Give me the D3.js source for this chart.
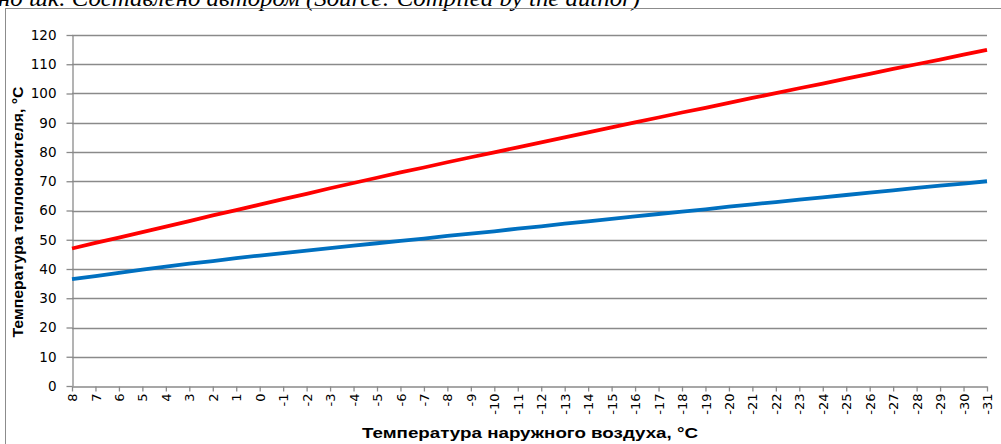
<!DOCTYPE html>
<html><head><meta charset="utf-8">
<script src="https://cdn.jsdelivr.net/npm/d3@7"></script>
<style>
html,body{margin:0;padding:0;background:#fff;overflow:hidden;}
svg{display:block;}
</style></head>
<body>
<svg id="c" width="1001" height="444"></svg>
<script>
const categories = ["8","7","6","5","4","3","2","1","0","-1","-2","-3","-4","-5","-6","-7","-8","-9","-10","-11","-12","-13","-14","-15","-16","-17","-18","-19","-20","-21","-22","-23","-24","-25","-26","-27","-28","-29","-30","-31"];
const supply = [47.0,48.9,50.7,52.6,54.5,56.4,58.3,60.1,62.0,63.9,65.7,67.6,69.4,71.2,73.0,74.7,76.5,78.2,79.9,81.6,83.3,85.0,86.7,88.4,90.1,91.8,93.5,95.1,96.8,98.5,100.1,101.8,103.4,105.1,106.7,108.4,110.0,111.6,113.3,114.9];
const ret = [36.5,37.6,38.7,39.8,40.8,41.8,42.7,43.7,44.6,45.4,46.3,47.1,48.0,48.8,49.6,50.4,51.3,52.1,52.9,53.8,54.6,55.5,56.3,57.1,58.0,58.8,59.6,60.4,61.3,62.1,62.9,63.7,64.5,65.3,66.1,66.9,67.7,68.5,69.2,70.0];
const yTicks = [0,10,20,30,40,50,60,70,80,90,100,110,120];
const caption = "но шк. Составлено автором (Source: Compiled by the author)";
const yTitle = "Температура теплоносителя, °С";
const xTitle = "Температура наружного воздуха, °С";

const svg = d3.select("#c");
const x = d3.scalePoint().domain(categories).range([72, 987]);
const y = d3.scaleLinear().domain([0,120]).range([386, 35]);

// caption (cut off at top, as in the source page)
svg.append("text").attr("x", -2).attr("y", 6)
  .attr("font-family", "Liberation Serif, Times New Roman, serif")
  .attr("font-style", "italic").attr("font-size", 24).attr("fill", "#000")
  .attr("textLength", 642).attr("lengthAdjust", "spacingAndGlyphs")
  .text(caption);

// chart frame
svg.append("rect").attr("x", 5.5).attr("y", 8.5).attr("width", 1010).attr("height", 450)
  .attr("fill", "none").attr("stroke", "#8c8c8c").attr("stroke-width", 1);

// gridlines
svg.append("g").selectAll("line").data(yTicks.filter(d => d > 0)).join("line")
  .attr("x1", 72).attr("x2", 987)
  .attr("y1", d => Math.round(y(d)) + 0.5).attr("y2", d => Math.round(y(d)) + 0.5)
  .attr("stroke", "#8a8a8a").attr("stroke-width", 1.3);

// y axis
const ya = svg.append("g").attr("transform", "translate(72.5,0)")
  .call(d3.axisLeft(y).tickValues(yTicks).tickSize(6).tickSizeOuter(0).tickPadding(10));
ya.select(".domain").attr("stroke", "#8a8a8a").attr("stroke-width", 1.3);
ya.selectAll(".tick line").attr("stroke", "#8a8a8a").attr("stroke-width", 1.3);
ya.selectAll(".tick text").attr("font-family", "DejaVu Sans, sans-serif").attr("font-size", 13.5).attr("fill", "#000");

// x axis
const xa = svg.append("g").attr("transform", "translate(0,386.5)")
  .call(d3.axisBottom(x).tickSize(5).tickSizeOuter(0).tickPadding(0));
xa.select(".domain").attr("stroke", "#8a8a8a").attr("stroke-width", 1.3);
xa.selectAll(".tick line").attr("stroke", "#8a8a8a").attr("stroke-width", 1.3);
xa.selectAll(".tick text")
  .attr("font-family", "DejaVu Sans, sans-serif").attr("font-size", 13).attr("fill", "#000")
  .attr("text-anchor", "end").attr("dy", "0.35em")
  .attr("transform", "translate(0,7) rotate(-90)").attr("x", 0).attr("y", 0);

// lines
const line = d3.line().x((d, i) => x(categories[i])).y(d => y(d));
svg.append("path").datum(ret).attr("d", line).attr("fill", "none")
  .attr("stroke", "#0070C0").attr("stroke-width", 3.8).attr("stroke-linejoin", "round");
svg.append("path").datum(supply).attr("d", line).attr("fill", "none")
  .attr("stroke", "#FF0000").attr("stroke-width", 3.8).attr("stroke-linejoin", "round");

// axis titles
svg.append("text").attr("transform", "translate(23,212) rotate(-90)")
  .attr("text-anchor", "middle").attr("font-family", "Liberation Sans, Arial, sans-serif")
  .attr("font-weight", "bold").attr("font-size", 15).attr("fill", "#000")
  .attr("textLength", 251).attr("lengthAdjust", "spacingAndGlyphs").text(yTitle);
svg.append("text").attr("x", 530).attr("y", 438)
  .attr("text-anchor", "middle").attr("font-family", "Liberation Sans, Arial, sans-serif")
  .attr("font-weight", "bold").attr("font-size", 15.5).attr("fill", "#000")
  .attr("textLength", 336).attr("lengthAdjust", "spacingAndGlyphs").text(xTitle);
</script>
</body></html>
